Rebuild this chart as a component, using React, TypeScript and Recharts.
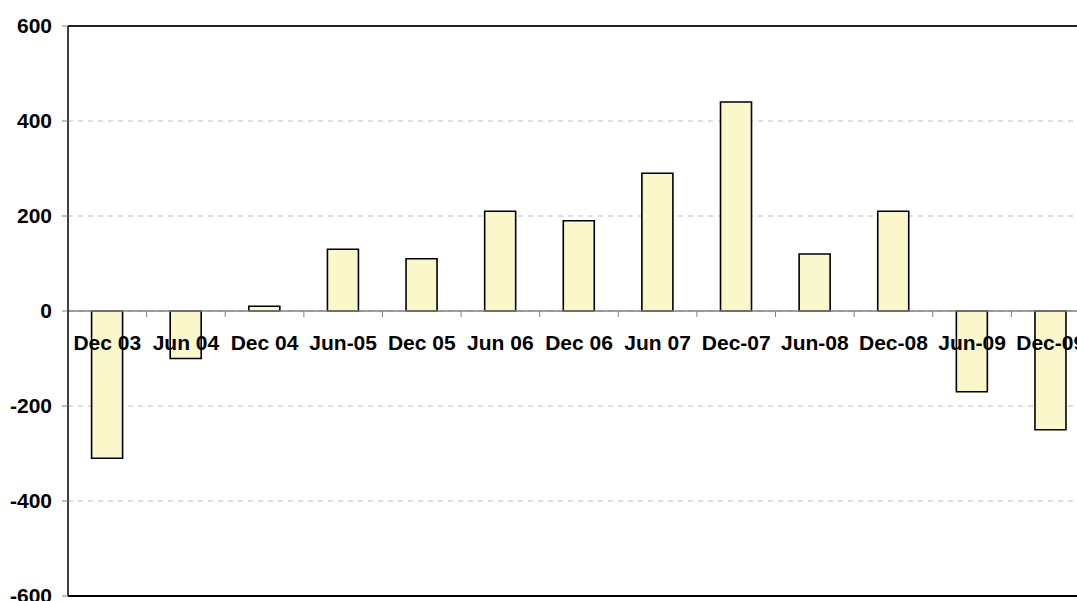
import { BarChart, Bar, XAxis, YAxis, CartesianGrid, ReferenceLine } from "recharts";

const periods = ["Dec 03", "Jun 04", "Dec 04", "Jun-05", "Dec 05", "Jun 06", "Dec 06", "Jun 07", "Dec-07", "Jun-08", "Dec-08", "Jun-09", "Dec-09"];
const values = [-310, -100, 10, 130, 110, 210, 190, 290, 440, 120, 210, -170, -250];
const yTicks = [-600, -400, -200, 0, 200, 400, 600];

const data = periods.map((name, i) => ({ name, value: values[i] }));

const W = 1100;
const H = 601;
const X_H = 1;
const M = { top: 26, right: 10, bottom: 4, left: 0 };
const Y_W = 68;
const PLOT_H = H - M.top - M.bottom - X_H;
const PLOT_W = W - M.left - M.right - Y_W;
const BAND = PLOT_W / periods.length;
const ZERO_Y = M.top + PLOT_H / 2;
const FONT = "'Liberation Sans', Arial, sans-serif";

// labels sit on the zero line, not at the bottom of the plot
const XTick = (props: any) => {
    const { x, payload } = props;
    return (
        <g>
            <line x1={x + BAND / 2} y1={ZERO_Y} x2={x + BAND / 2} y2={ZERO_Y + 6} stroke="#808080" strokeWidth={1} />
            <text x={x} y={ZERO_Y + 39} textAnchor="middle" fontFamily={FONT} fontSize={21} fontWeight="bold" fill="#000">
                {payload.value}
            </text>
        </g>
    );
};

export default function App() {
    return (
        <div style={{ position: "fixed", left: 0, top: 0, width: 1077, height: 601, overflow: "hidden", background: "#fff" }}>
            <BarChart width={W} height={H} data={data} margin={M} barCategoryGap="30%">
                <CartesianGrid vertical={false} stroke="#c0c0c0" strokeDasharray="5 5" />
                <YAxis
                    width={Y_W}
                    domain={[-600, 600]}
                    ticks={yTicks}
                    interval={0}
                    axisLine={{ stroke: "#000", strokeWidth: 1.5 }}
                    tickLine={{ stroke: "#808080" }}
                    tickSize={6}
                    tickMargin={10}
                    tick={{ fill: "#000", fontSize: 21, fontWeight: "bold", fontFamily: FONT }}
                />
                <ReferenceLine y={600} stroke="#222" strokeWidth={2} />
                <ReferenceLine y={-600} stroke="#000" strokeWidth={2} />
                <ReferenceLine y={0} stroke="#808080" strokeWidth={1.5} />
                <Bar dataKey="value" fill="#FAF7CB" stroke="#000" strokeWidth={1.6} isAnimationActive={false} />
                <XAxis dataKey="name" height={X_H} axisLine={false} tickLine={false} tick={XTick} interval={0} />
            </BarChart>
        </div>
    );
}
